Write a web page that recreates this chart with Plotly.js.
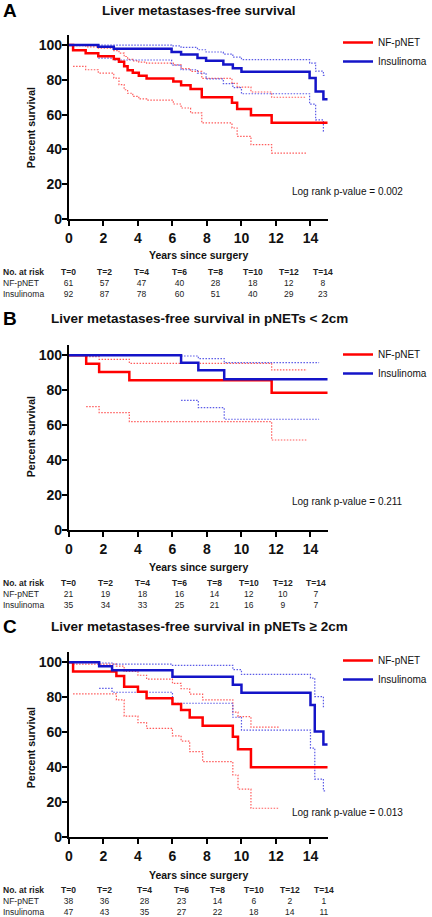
<!DOCTYPE html>
<html>
<head>
<meta charset="utf-8">
<script src="https://cdn.plot.ly/plotly-3.0.1.min.js"></script>
<style>
html,body{margin:0;padding:0;background:#fff;}
#chart{width:432px;height:917px;}
</style>
</head>
<body>
<div id="chart"></div>
<script>
// ---------------- DATA ----------------
const panelLetters = ['A', 'B', 'C'];
const panelTitles = [
  'Liver metastases-free survival',
  'Liver metastases-free survival in pNETs &lt; 2cm',
  'Liver metastases-free survival in pNETs ≥ 2cm'
];
const seriesNames = ['NF-pNET', 'Insulinoma'];
const pValues = ['0.002', '0.211', '0.013'];
const xTickVals = [0, 2, 4, 6, 8, 10, 12, 14];
const yTickVals = [0, 20, 40, 60, 80, 100];
const riskTimes = [0, 2, 4, 6, 8, 10, 12, 14];

// Panel A — all patients
const a_nf_t  = [0, 0.24, 0.97, 1.7, 2.6, 2.9, 3.2, 3.4, 3.7, 4.05, 4.5, 6.05, 6.5, 7.05, 7.7, 9.45, 9.75, 10.55, 11.75, 15];
const a_nf_s  = [100, 97.0, 95.3, 93.6, 92.0, 90.4, 87.8, 85.5, 84.0, 82.3, 80.8, 79.0, 76.9, 74.8, 70.0, 66.8, 63.3, 59.6, 55.3, 55.3];
const a_nf_ci_t = [0.24, 0.97, 1.7, 2.6, 2.9, 3.2, 3.4, 3.7, 4.05, 4.5, 6.05, 6.5, 7.05, 7.7, 9.45, 9.75, 10.55, 11.75, 13.75];
const a_nf_hi = [99.6, 99.0, 98.2, 96.8, 95.4, 93.4, 91.8, 90.9, 90.2, 89.6, 88.6, 86.4, 84.9, 80.8, 78.0, 75.8, 73.0, 70.0, 70.0];
const a_nf_lo = [87.7, 85.8, 83.9, 81.0, 77.2, 74.3, 72.3, 70.5, 69.0, 68.3, 66.1, 63.8, 61.0, 55.2, 52.3, 47.5, 42.7, 37.9, 37.9];
const a_in_t  = [0, 1.7, 2.6, 5.95, 6.5, 7.45, 7.95, 8.95, 9.5, 10.0, 13.95, 14.3, 14.75, 15];
const a_in_s  = [100, 99.0, 97.8, 96.0, 94.6, 92.6, 91.0, 88.8, 86.6, 84.6, 81.0, 73.3, 68.9, 68.9];
const a_in_ci_t = [1.7, 2.6, 5.95, 6.5, 7.45, 7.95, 8.95, 9.5, 10.0, 13.95, 14.3, 14.75, 14.85];
const a_in_hi = [100, 100, 99.5, 98.6, 97.3, 96.0, 94.8, 93.0, 91.6, 89.6, 85.0, 82.6, 82.6];
const a_in_lo = [92.5, 91.4, 88.5, 85.8, 83.9, 80.5, 77.8, 75.5, 72.0, 66.0, 57.0, 50.5, 50.5];

// Panel B — pNETs < 2cm
const b_nf_t  = [0, 1.0, 1.75, 3.5, 11.75, 15];
const b_nf_s  = [100, 95.2, 90.5, 85.7, 78.5, 78.5];
const b_nf_ci_t = [1.0, 1.75, 3.5, 11.75, 13.8];
const b_nf_hi = [99.2, 97.7, 95.4, 91.6, 91.6];
const b_nf_lo = [70.6, 67.2, 62.0, 51.5, 51.5];
const b_in_t  = [0, 6.5, 7.5, 9.0, 15];
const b_in_s  = [100, 95.7, 91.4, 86.3, 86.3];
const b_in_ci_t = [6.5, 7.5, 9.0, 14.5];
const b_in_hi = [99.6, 98.1, 95.8, 95.8];
const b_in_lo = [74.2, 70.0, 63.4, 63.4];

// Panel C — pNETs >= 2cm
const c_nf_t  = [0, 0.24, 2.75, 3.2, 4.0, 4.5, 6.0, 6.5, 7.0, 7.75, 9.5, 9.8, 10.55, 15];
const c_nf_s  = [100, 94.7, 92.2, 86.1, 83.2, 79.4, 76.2, 72.8, 68.4, 63.8, 57.5, 50.3, 40.0, 40.0];
const c_nf_ci_t = [0.24, 2.75, 3.2, 4.0, 4.5, 6.0, 6.5, 7.0, 7.75, 9.5, 9.8, 10.55, 12.2];
const c_nf_hi = [99.0, 97.8, 94.8, 92.6, 90.4, 88.0, 84.9, 81.8, 78.5, 71.5, 69.0, 63.0, 63.0];
const c_nf_lo = [82.0, 78.5, 69.2, 65.5, 62.3, 58.0, 55.0, 49.0, 43.2, 35.6, 27.5, 16.6, 16.6];
const c_in_t  = [0, 1.75, 2.5, 6.0, 9.5, 10.0, 14.0, 14.25, 14.75, 15];
const c_in_s  = [100, 97.7, 95.5, 91.7, 87.2, 82.6, 75.6, 60.4, 53.1, 53.1];
const c_in_ci_t = [1.75, 2.5, 6.0, 9.5, 10.0, 14.0, 14.25, 14.75, 14.85];
const c_in_hi = [99.6, 99.0, 98.3, 95.8, 93.1, 91.0, 80.4, 74.7, 74.7];
const c_in_lo = [85.1, 82.9, 76.6, 68.6, 61.3, 51.0, 33.3, 26.5, 26.5];

// Numbers at risk
const riskA_nf = [61, 57, 47, 40, 28, 18, 12, 8];
const riskA_in = [92, 87, 78, 60, 51, 40, 29, 23];
const riskB_nf = [21, 19, 18, 16, 14, 12, 10, 7];
const riskB_in = [35, 34, 33, 25, 21, 16, 9, 7];
const riskC_nf = [38, 36, 28, 23, 14, 6, 2, 1];
const riskC_in = [47, 43, 35, 27, 22, 18, 14, 11];

// ---------------- LAYOUT (pixel geometry) ----------------
const W = 432, H = 917;
const px = v => v / W;
const py = v => 1 - v / H;
const FONT = 'Liberation Sans, Arial, Helvetica, sans-serif';
const RED = '#ff0000', BLUE = '#1414c8';
const RED_CI = 'rgba(255,50,50,0.8)', BLUE_CI = 'rgba(50,50,225,0.8)';

const geom = [
  {y0: 219,   top: 34.6,  head: 10.5, xt: 255, yt: 128, tbl: 283.3, pv: 192,   leg: 28,
   cols: [72, 111, 150, 190, 228, 268, 306, 342]},
  {y0: 530,   top: 344.8, head: 318,  xt: 567, yt: 437, tbl: 594.3, pv: 501.7, leg: 340,
   cols: [72, 112, 151, 190, 227, 264, 300, 335]},
  {y0: 837.3, top: 651.8, head: 626,  xt: 875, yt: 748, tbl: 900.5, pv: 812.7, leg: 646,
   cols: [72, 111, 153, 192, 230, 269, 307, 343]}
];
const xLeft = 73, xRight = 347;

const panels = [
  {nf: [a_nf_t, a_nf_s, a_nf_ci_t, a_nf_hi, a_nf_lo], ins: [a_in_t, a_in_s, a_in_ci_t, a_in_hi, a_in_lo], risk: [riskA_nf, riskA_in]},
  {nf: [b_nf_t, b_nf_s, b_nf_ci_t, b_nf_hi, b_nf_lo], ins: [b_in_t, b_in_s, b_in_ci_t, b_in_hi, b_in_lo], risk: [riskB_nf, riskB_in]},
  {nf: [c_nf_t, c_nf_s, c_nf_ci_t, c_nf_hi, c_nf_lo], ins: [c_in_t, c_in_s, c_in_ci_t, c_in_hi, c_in_lo], risk: [riskC_nf, riskC_in]}
];

const traces = [];
const layout = {
  width: W, height: H,
  margin: {l: 0, r: 0, t: 0, b: 0},
  paper_bgcolor: '#ffffff', plot_bgcolor: '#ffffff',
  font: {family: FONT, color: '#111'},
  annotations: [], showlegend: true
};

panels.forEach((p, i) => {
  const k = i + 1;
  const xa = k === 1 ? 'x' : 'x' + k;
  const ya = k === 1 ? 'y' : 'y' + k;
  const lg = k === 1 ? 'legend' : 'legend' + k;
  const g = geom[i];

  const ciLine = (t, s, c) => ({type: 'scatter', mode: 'lines', x: t, y: s, xaxis: xa, yaxis: ya,
    line: {shape: 'hv', color: c, width: 1.2, dash: '1.5px,1.5px'}, showlegend: false, hoverinfo: 'skip'});
  traces.push(ciLine(p.nf[2], p.nf[3], RED_CI));
  traces.push(ciLine(p.nf[2], p.nf[4], RED_CI));
  traces.push(ciLine(p.ins[2], p.ins[3], BLUE_CI));
  traces.push(ciLine(p.ins[2], p.ins[4], BLUE_CI));
  traces.push({type: 'scatter', mode: 'lines', name: seriesNames[0], x: p.nf[0], y: p.nf[1], xaxis: xa, yaxis: ya,
    legend: lg, line: {shape: 'hv', color: RED, width: 2.5}});
  traces.push({type: 'scatter', mode: 'lines', name: seriesNames[1], x: p.ins[0], y: p.ins[1], xaxis: xa, yaxis: ya,
    legend: lg, line: {shape: 'hv', color: BLUE, width: 2.5}});

  const axCommon = {showgrid: false, zeroline: false, showline: true, linecolor: '#000', linewidth: 2,
    ticks: 'outside', ticklen: 5, tickwidth: 2, tickcolor: '#000',
    tickfont: {family: FONT, size: 14, color: '#111', weight: 700}, fixedrange: true};
  layout[k === 1 ? 'xaxis' : 'xaxis' + k] = Object.assign({}, axCommon, {
    domain: [px(xLeft), px(xRight)], range: [0, 15], tickmode: 'array', tickvals: xTickVals,
    anchor: ya});
  layout[k === 1 ? 'yaxis' : 'yaxis' + k] = Object.assign({}, axCommon, {
    domain: [py(g.y0), py(g.top)], range: [0, 106], tickmode: 'array', tickvals: yTickVals,
    anchor: xa, ticklabelstandoff: -3});

  layout[lg] = {x: px(358), y: py(g.leg), xanchor: 'left', yanchor: 'top', bgcolor: 'rgba(0,0,0,0)',
    font: {family: FONT, size: 10, color: '#111'}, traceorder: 'normal', itemwidth: 30};

  const A = layout.annotations;
  const ann = (text, x, y, o) => A.push(Object.assign({text: text, xref: 'paper', yref: 'paper',
    x: px(x), y: py(y), xanchor: 'center', yanchor: 'middle', showarrow: false, borderpad: 0,
    font: {family: FONT, size: 8.5, color: '#222'}}, o || {}));

  ann(panelLetters[i], 2, g.head, {xanchor: 'left', font: {family: FONT, size: 19, color: '#000', weight: 700}});
  ann(panelTitles[i], 211, g.head, {font: {family: FONT, size: 13.5, color: '#111', weight: 700}});
  ann('Percent survival', 33, g.yt, {textangle: -90, font: {family: FONT, size: 10.5, color: '#111', weight: 700}});
  ann('Years since surgery', 210, g.xt, {font: {family: FONT, size: 10.5, color: '#111', weight: 700}});
  ann('Log rank p-value = ' + pValues[i], 428, g.pv, {xanchor: 'right', font: {family: FONT, size: 10, color: '#111'}});

  // Numbers-at-risk table: one three-line block per column
  ann('<b>No. at risk</b><br>' + seriesNames[0] + '<br>' + seriesNames[1], 2, g.tbl, {xanchor: 'left', align: 'left'});
  riskTimes.forEach((t, j) => {
    ann('<b>T=' + t + '</b><br>' + p.risk[0][j] + '<br>' + p.risk[1][j], g.cols[j], g.tbl, {align: 'center'});
  });
});

Plotly.newPlot('chart', traces, layout, {staticPlot: true, displayModeBar: false});
</script>
</body>
</html>
